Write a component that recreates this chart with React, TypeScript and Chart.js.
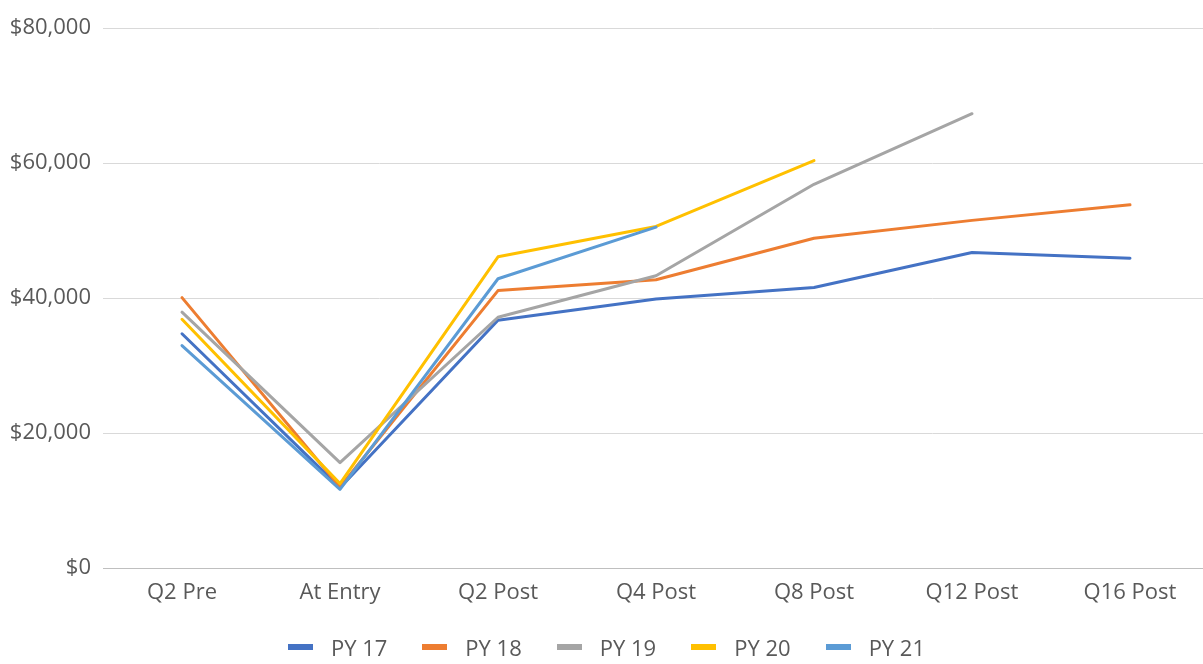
import React, { useEffect, useRef } from "react";
import { Chart, registerables } from "chart.js";

Chart.register(...registerables);

const categories = ["Q2 Pre", "At Entry", "Q2 Post", "Q4 Post", "Q8 Post", "Q12 Post", "Q16 Post"];
const seriesNames = ["PY 17", "PY 18", "PY 19", "PY 20", "PY 21"];
const py17 = [34700, 11900, 36700, 39850, 41550, 46750, 45900];
const py18 = [40050, 12000, 41100, 42700, 48850, 51500, 53800];
const py19 = [37900, 15600, 37150, 43300, 56850, 67300, null];
const py20 = [36850, 12500, 46100, 50600, 60350, null, null];
const py21 = [32950, 11650, 42850, 50500, null, null, null];
const seriesColors = ["#4472C4", "#ED7D31", "#A5A5A5", "#FFC000", "#5B9BD5"];
const yTicks = [0, 20000, 40000, 60000, 80000];

const FONT = "'Open Sans', sans-serif";
const TEXT = "#595959";

export default function App() {
  const ref = useRef<HTMLCanvasElement | null>(null);

  useEffect(() => {
    const values = [py17, py18, py19, py20, py21];
    const chart = new Chart(ref.current as HTMLCanvasElement, {
      type: "line",
      data: {
        labels: categories,
        datasets: seriesNames.map((name, i) => ({
          label: name,
          data: values[i],
          borderColor: seriesColors[i],
          backgroundColor: seriesColors[i],
          borderWidth: 3,
          pointRadius: 0,
          tension: 0,
          borderJoinStyle: "round" as const,
          borderCapStyle: "round" as const,
          spanGaps: false,
          order: seriesNames.length - i,
        })),
      },
      options: {
        responsive: false,
        animation: false,
        layout: { padding: { top: 28, right: 1, left: 0, bottom: 0 } },
        plugins: {
          legend: { display: false },
          tooltip: { enabled: false },
        },
        scales: {
          x: {
            offset: true,
            grid: { display: false, drawTicks: false },
            border: { display: true, color: "#bfbfbf", width: 1 },
            ticks: {
              color: TEXT,
              font: { family: FONT, size: 22 },
              padding: 12,
              maxRotation: 0,
              autoSkip: false,
            },
            afterFit: (s: any) => {
              s.height = 96;
            },
          },
          y: {
            min: 0,
            max: 80000,
            afterBuildTicks: (s: any) => {
              s.ticks = yTicks.map((v) => ({ value: v }));
            },
            grid: {
              drawTicks: false,
              color: (ctx: any) => (ctx.tick && ctx.tick.value === 0 ? "#bfbfbf" : "#d9d9d9"),
              lineWidth: 1,
            },
            border: { display: false },
            ticks: {
              color: TEXT,
              font: { family: FONT, size: 22 },
              padding: 12,
              callback: (v: any) => "$" + Number(v).toLocaleString("en-US"),
            },
            afterFit: (s: any) => {
              s.width = 103;
            },
          },
        },
      },
    });
    return () => chart.destroy();
  }, []);

  return (
    <div
      style={{
        position: "fixed",
        left: 0,
        top: 0,
        width: 1203,
        height: 664,
        overflow: "hidden",
        background: "#fff",
      }}
    >
      <canvas ref={ref} width={1210} height={664} style={{ display: "block" }} />
      <div
        style={{
          position: "absolute",
          left: 0,
          top: 633,
          width: 1203,
          height: 28,
          boxSizing: "border-box",
          paddingLeft: 10,
          display: "flex",
          justifyContent: "center",
          alignItems: "center",
          gap: 35,
          fontFamily: FONT,
          fontSize: 22,
          color: TEXT,
        }}
      >
        {seriesNames.map((name, i) => (
          <div key={name} style={{ display: "flex", alignItems: "center" }}>
            <span
              style={{
                display: "inline-block",
                width: 25,
                height: 6,
                background: seriesColors[i],
                marginRight: 18,
              }}
            />
            <span style={{ lineHeight: "28px" }}>{name}</span>
          </div>
        ))}
      </div>
    </div>
  );
}
